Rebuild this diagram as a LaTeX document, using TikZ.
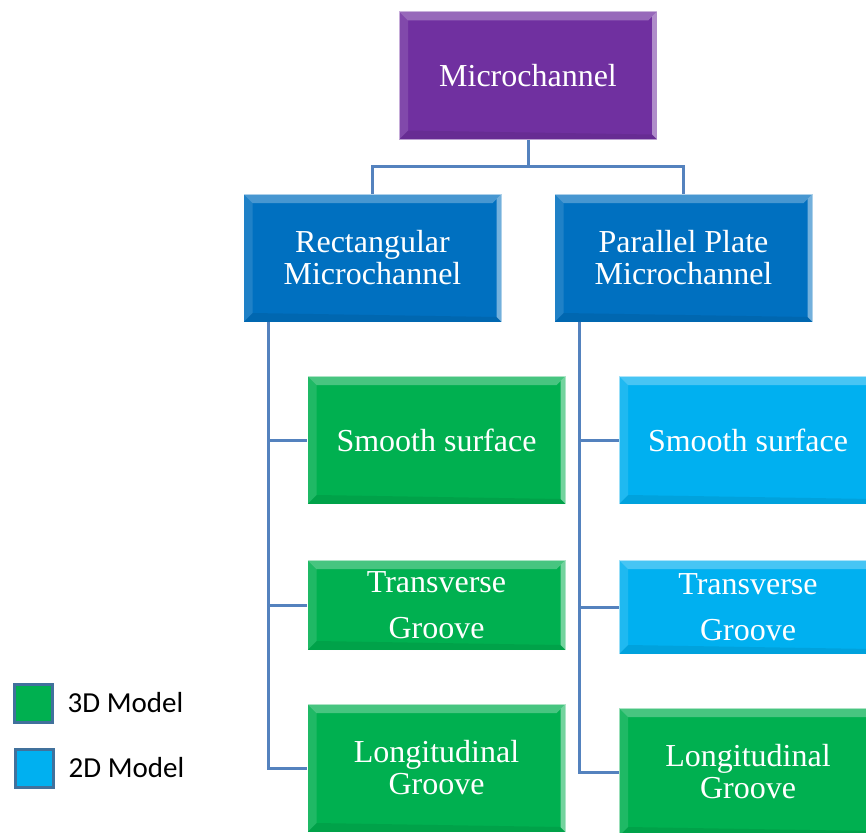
\documentclass[tikz,border=0pt]{standalone}
\usepackage{fontspec}
\setmainfont{Liberation Serif}
\newfontfamily\legendfont{Carlito}
\usepackage{xcolor}
\usetikzlibrary{positioning}

\definecolor{topPurple}{RGB}{112,48,160}
\definecolor{midBlue}{RGB}{0,112,192}
\definecolor{modelGreen}{RGB}{0,176,80}
\definecolor{modelCyan}{RGB}{0,176,240}
\definecolor{linkBlue}{RGB}{84,130,190}
\definecolor{keyEdge}{RGB}{65,113,156}

\begin{document}
\begin{tikzpicture}[
  x=1pt, y=-1pt,
  box/.style={
    draw=white, draw opacity=0.55, line width=0.8pt,
    minimum width=258pt,
    minimum height=128pt,
    inner sep=0pt,
    text=white,
    align=center,
    font=\fontsize{32}{32}\selectfont,
    path picture={
      % bevel: light top and sides, dark bottom
      \fill[white, opacity=0.28] (path picture bounding box.north west) -- (path picture bounding box.north east)
        -- ++(-9pt,-9pt) -- ([shift={(9pt,-9pt)}]path picture bounding box.north west) -- cycle;
      \fill[white, opacity=0.12] (path picture bounding box.north west) -- ([shift={(9pt,-9pt)}]path picture bounding box.north west)
        -- ([shift={(9pt,9pt)}]path picture bounding box.south west) -- (path picture bounding box.south west) -- cycle;
      \fill[white, opacity=0.45] (path picture bounding box.north east) -- ([shift={(-5pt,-5pt)}]path picture bounding box.north east)
        -- ([shift={(-5pt,5pt)}]path picture bounding box.south east) -- (path picture bounding box.south east) -- cycle;
      \fill[black, opacity=0.08] (path picture bounding box.south west) -- ([shift={(9pt,9pt)}]path picture bounding box.south west)
        -- ([shift={(-5pt,5pt)}]path picture bounding box.south east) -- (path picture bounding box.south east) -- cycle;
    }
  },
  link/.style={
    line width=3pt,
    draw=linkBlue
  },
  key/.style={
    draw=keyEdge,
    line width=3pt,
    minimum size=38pt,
    inner sep=0pt
  },
  keytext/.style={
    inner sep=0pt,
    font=\legendfont\fontsize{29}{29}\selectfont
  }
]
\clip (0,0) rectangle (866,832);

% Top and second level
\node[box, fill=topPurple] (micro) at (528,75.5) {Microchannel};
\node[box, fill=midBlue] (rect) at (372.5,258) {Rectangular\\Microchannel};
\node[box, fill=midBlue] (para) at (683.5,258) {Parallel Plate\\Microchannel};

% Rectangular branch (3D)
\node[box, fill=modelGreen] (rsmooth) at (436.5,440) {Smooth surface};
\node[box, fill=modelGreen, minimum height=90pt] (rtrans) at (436.5,605) {Transverse\\[14pt]Groove};
\node[box, fill=modelGreen] (rlong) at (436.5,768) {Longitudinal\\Groove};

% Parallel plate branch
\node[box, fill=modelCyan] (psmooth) at (748,440) {Smooth surface};
\node[box, fill=modelCyan, minimum height=94pt] (ptrans) at (748,607) {Transverse\\[14pt]Groove};
\node[box, fill=modelGreen] (plong) at (748,772) {Longitudinal\\Groove};

% Connections
\coordinate (fork) at (528,166);
\draw[link] (micro.south) -- (fork);
\draw[link] (fork) -| (rect.north);
\draw[link] (fork) -| (para.north);

\draw[link] ([xshift=25pt]rect.south west) |- (rsmooth.west);
\draw[link] ([xshift=25pt]rect.south west) |- (rtrans.west);
\draw[link] ([xshift=25pt]rect.south west) |- (rlong.west);

\draw[link] ([xshift=25pt]para.south west) |- (psmooth.west);
\draw[link] ([xshift=25pt]para.south west) |- (ptrans.west);
\draw[link] ([xshift=25pt]para.south west) |- (plong.west);

% Legend
\node[key, fill=modelGreen] (key3d) at (33,703) {};
\node[key, fill=modelCyan] (key2d) at (34,768) {};
\node[keytext, right=14pt of key3d] (lab3d) {3D Model};
\node[keytext, right=14pt of key2d] (lab2d) {2D Model};
\end{tikzpicture}
\end{document}
